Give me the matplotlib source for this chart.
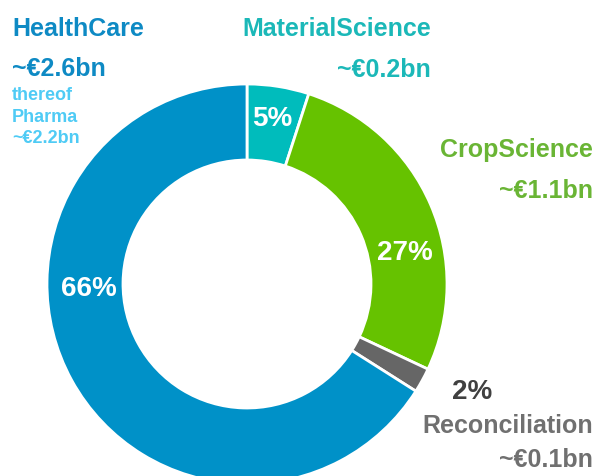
import matplotlib.pyplot as plt

# Data
segments = ["MaterialScience", "CropScience", "Reconciliation", "HealthCare"]
shares = [5, 27, 2, 66]
amounts = ["~€0.2bn", "~€1.1bn", "~€0.1bn", "~€2.6bn"]
wedge_colors = ["#00BCBC", "#66C200", "#666666", "#0091C8"]
pharma_lines = ["thereof", "Pharma", "~€2.2bn"]

W, H = 598, 477
plt.rcParams["font.family"] = ["Liberation Sans", "DejaVu Sans"]

fig = plt.figure(figsize=(W / 100, H / 100), dpi=100)
ax = fig.add_axes([0, 0, 1, 1])


def Y(py):
    # pixel row -> data y
    return H - py


cx, cy, R = 247, 285, 200
ax.pie(shares, colors=wedge_colors, startangle=90, counterclock=False,
       center=(cx, Y(cy)), radius=R,
       wedgeprops=dict(width=R * 0.38, edgecolor="white", linewidth=2))
ax.set_xlim(0, W)
ax.set_ylim(0, H)
ax.set_aspect("auto")
ax.axis("off")

# percentages inside the ring
big = dict(fontsize=20, fontweight="bold", ha="center", va="center")
ax.text(272, Y(119), f"{shares[0]}%", color="white", **big)
ax.text(405, Y(253), f"{shares[1]}%", color="white", **big)
ax.text(89, Y(289), f"{shares[3]}%", color="white", **big)
ax.text(472, Y(392), f"{shares[2]}%", color="#404040", **big)

lab = dict(fontsize=18, fontweight="bold", va="baseline")

# HealthCare
ax.text(12, Y(36), segments[3], color="#0E8AC4", ha="left", **lab)
ax.text(12, Y(76), amounts[3], color="#0E8AC4", ha="left", **lab)
for i, line in enumerate(pharma_lines):
    ax.text(12, Y(100 + 21.5 * i), line, color="#4FCBF5", ha="left",
            fontsize=13, fontweight="bold", va="baseline")

# MaterialScience
ax.text(431, Y(36), segments[0], color="#1BB8B8", ha="right", **lab)
ax.text(431, Y(77), amounts[0], color="#1BB8B8", ha="right", **lab)

# CropScience
ax.text(593, Y(157), segments[1], color="#6AB535", ha="right", **lab)
ax.text(593, Y(198), amounts[1], color="#6AB535", ha="right", **lab)

# Reconciliation
ax.text(593, Y(433), segments[2], color="#707070", ha="right", **lab)
ax.text(593, Y(467), amounts[2], color="#707070", ha="right", **lab)

fig.savefig("out.png", dpi=100)
